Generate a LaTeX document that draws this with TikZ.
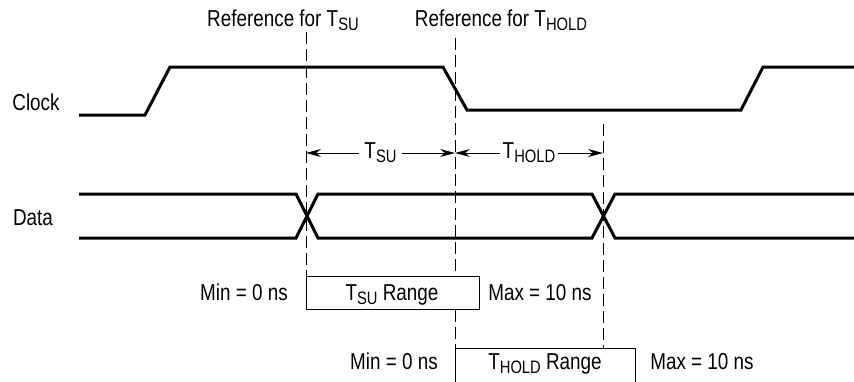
\documentclass[tikz,border=0pt]{standalone}
\usepackage{fontspec}
\setmainfont{Liberation Sans}[FakeStretch=0.82]
\usetikzlibrary{arrows.meta}

\newcommand{\lowtxt}[1]{\raisebox{-4pt}{\fontsize{18}{18}\selectfont #1}}

\tikzset{every picture/.style={line width=1pt}}
\tikzset{
  wave/.style={line width=3pt, line join=miter},
  refline/.style={line width=1pt, dash pattern=on 12pt off 5pt},
  span/.style={line width=1pt, {Stealth[length=15pt,width=8pt]}-{Stealth[length=15pt,width=8pt]}},
  lbl/.style={font=\fontsize{23}{26}\selectfont, inner sep=0pt},
  rangebox/.style={draw, fill=white, line width=1pt}
}

\begin{document}
\begin{tikzpicture}[x=1pt,y=1pt,yscale=-1,xscale=1]
\clip (0,0) rectangle (854,381);

%Reference lines
\coordinate (sutop) at (306,32);
\coordinate (holdtop) at (455,38);
\coordinate (maxtop) at (603,124);
\draw [refline] (sutop) -- (306,276);
\draw [refline] (holdtop) -- (455,348);
\draw [refline] (maxtop) -- (603,348);

%Clock waveform
\draw [wave] (79,115) -- (145,115) -- (170,67) -- (443,67) -- (467,110) -- (741,110) -- (763,67) -- (854,67);

%Data waveform
\draw [wave] (79,194) -- (296,194) -- (318,238) -- (592,238) -- (615,194) -- (854,194);
\draw [wave] (79,238) -- (296,238) -- (318,194) -- (592,194) -- (615,238) -- (854,238);

%Setup and hold spans
\coordinate (suleft) at (306,153);
\coordinate (sumid) at (455,153);
\coordinate (holdright) at (603,153);
\draw [span] (suleft) -- (sumid) node [midway, fill=white, lbl, inner xsep=5pt, inner ysep=3pt] (sulbl) {T\lowtxt{SU}};
\draw [span] (sumid) -- (holdright) node [midway, fill=white, lbl, inner xsep=3pt, inner ysep=3pt] (holdlbl) {T\lowtxt{HOLD}};

%Range boxes
\fill [white] (306,276) rectangle (479,309);
\draw [rangebox] (306,276) rectangle (479,309);
\draw [rangebox] (455,348) rectangle (635,395);

% Text Node
\node [lbl, anchor=base] (clklbl) at (36,110) {Clock};
% Text Node
\node [lbl, anchor=base] (datalbl) at (33,225) {Data};
% Text Node
\node [lbl, anchor=base] (refsu) at (283,26) {Reference for T\lowtxt{SU}};
% Text Node
\node [lbl, anchor=base] (refhold) at (501,26) {Reference for T\lowtxt{HOLD}};
% Text Node
\node [lbl, anchor=base] (sumin) at (244,300) {Min = 0 ns};
% Text Node
\node [lbl, anchor=base] (surange) at (392,300) {T\lowtxt{SU} Range};
% Text Node
\node [lbl, anchor=base] (sumax) at (540,300) {Max = 10 ns};
% Text Node
\node [lbl, anchor=base] (holdmin) at (394,369) {Min = 0 ns};
% Text Node
\node [lbl, anchor=base] (holdrange) at (545,369) {T\lowtxt{HOLD} Range};
% Text Node
\node [lbl, anchor=base] (holdmax) at (702,369) {Max = 10 ns};

\end{tikzpicture}
\end{document}
